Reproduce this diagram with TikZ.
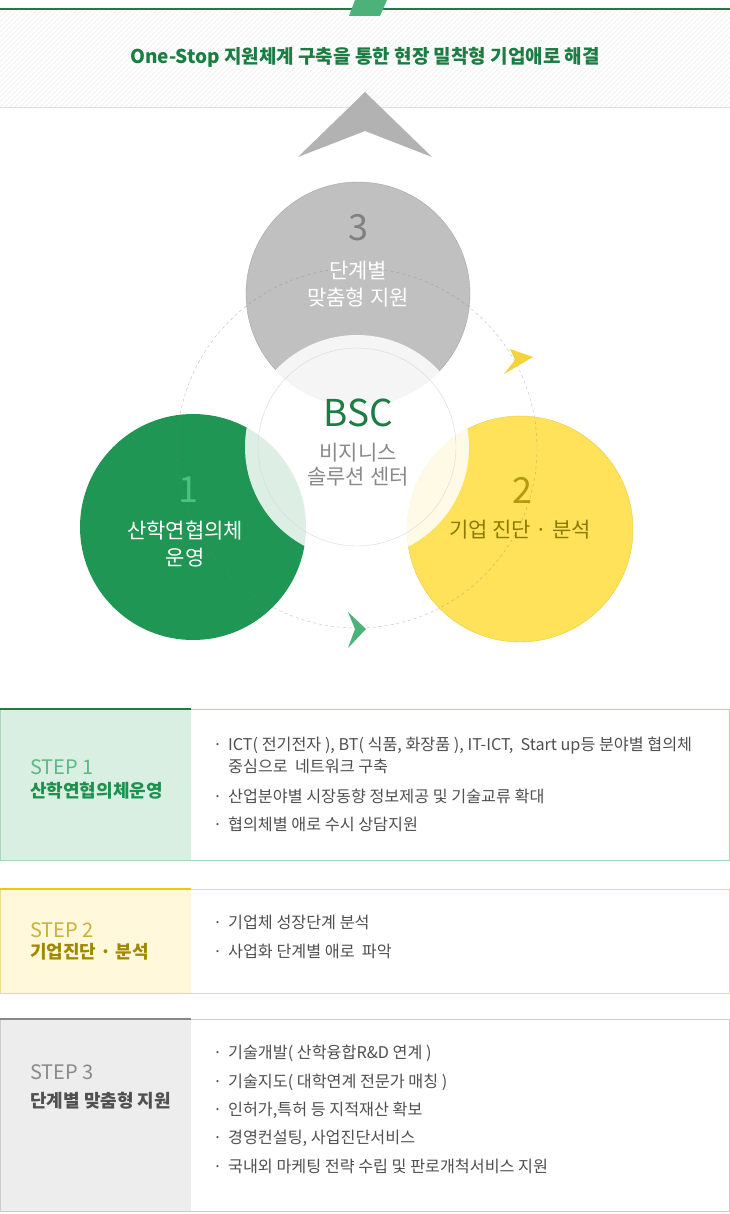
\documentclass[tikz,border=0pt]{standalone}
\usepackage{fontspec}
\setmainfont{Noto Sans CJK KR}
\usetikzlibrary{arrows.meta}

\definecolor{bscgreen}{HTML}{1B7D43}
\definecolor{circgreen}{HTML}{1F9653}
\definecolor{circgray}{HTML}{C0C0C0}
\definecolor{circyellow}{HTML}{FFE25A}
\definecolor{chevgreen}{HTML}{4DB27A}
\definecolor{chevyellow}{HTML}{F4D23A}
\definecolor{numgreen}{HTML}{4CC27F}
\definecolor{numyellow}{HTML}{B39A10}
\definecolor{olivetext}{HTML}{8C7A00}
\definecolor{midgray}{HTML}{8A8A8A}
\definecolor{bodygray}{HTML}{505050}
\definecolor{oneborder}{HTML}{A8D8BA}
\definecolor{onefill}{HTML}{D8EFE1}
\definecolor{onestep}{HTML}{5DB885}
\definecolor{onename}{HTML}{1E9150}
\definecolor{twoborder}{HTML}{EBDB8A}
\definecolor{twofill}{HTML}{FFF8DA}
\definecolor{twotop}{HTML}{F0C800}
\definecolor{twostep}{HTML}{C9B13A}
\definecolor{twoname}{HTML}{A08800}
\definecolor{threeborder}{HTML}{CCCCCC}
\definecolor{threefill}{HTML}{EDEDED}
\definecolor{threetop}{HTML}{888888}
\newcommand{\bul}{\makebox[15pt][l]{·}}

\begin{document}
\begin{tikzpicture}[x=1pt,y=-1pt,
  item/.style={anchor=base west,inner sep=0pt,text=bodygray,font=\fontsize{16.2}{19}\selectfont},
  steplabel/.style={anchor=base west,inner sep=0pt,font=\fontsize{20}{24}\selectfont},
  stepname/.style={anchor=base west,inner sep=0pt,font=\bfseries\fontsize{18}{21}\selectfont},
  circtext/.style={align=center,inner sep=0pt,font=\fontsize{21}{27}\selectfont},
  bignum/.style={inner sep=0pt,font=\fontsize{36}{40}\selectfont}]
  \useasboundingbox (0,0) rectangle (730,1214);
  \fill[white] (0,0) rectangle (730,1214);
  \begin{scope}
    \clip (0,9) rectangle (730,107);
    \foreach \k in {-100,-95,...,730}
      \draw[gray!14,line width=0.6pt] (\k,107) -- (\k+98,9);
  \end{scope}
  \draw[gray!25] (0,107) -- (730,107);
  \draw[bscgreen,line width=2pt] (0,9) -- (730,9);
  \fill[chevgreen] (355,0) -- (387,0) -- (380,16) -- (349,16) -- cycle;
  \node[anchor=base,inner sep=0pt,text=bscgreen,font=\bfseries\fontsize{19}{21}\selectfont] (title) at (365,64)
    {One-Stop 지원체계 구축을 통한 현장 밀착형 기업애로 해결};
  \fill[gray!60] (365,92) -- (432,157) -- (365,131) -- (298,157) -- cycle;

  \fill[circgray] (358,294) circle[radius=112pt];
  \draw[gray!70,line width=0.4pt] (358,294) circle[radius=112pt];
  \fill[circgreen] (193,527) circle[radius=113pt];
  \fill[circyellow] (520,529) circle[radius=113pt];
  \draw[circyellow!80!olivetext,line width=0.4pt] (520,529) circle[radius=113pt];
  \fill[white,opacity=0.85] (357,447) circle[radius=112pt];
  \draw[gray!30] (357,447) circle[radius=99pt];
  \draw[gray,opacity=0.5,dash pattern=on 3pt off 3pt] (357,448) circle[radius=180pt];
  \fill[chevyellow] (533,357) -- (510,349) -- (515,360) -- (504,374) -- cycle;
  \fill[chevgreen] (366,629) -- (348,612) -- (355,629) -- (348,648) -- cycle;

  \node[bignum,text=gray] (num3) at (358,228) {3};
  \node[circtext,text=white] (circ3) at (358,284) {단계별\\맞춤형 지원};
  \node[inner sep=0pt,text=bscgreen,font=\fontsize{37}{40}\selectfont] (bsc) at (358,413) {BSC};
  \node[circtext,text=midgray,font=\fontsize{21}{24}\selectfont] (bsctext) at (358,465) {비지니스\\솔루션 센터};
  \node[bignum,text=numgreen] (num1) at (188,490) {1};
  \node[circtext,text=white] (circ1) at (185,544) {산학연협의체\\운영};
  \node[bignum,text=numyellow] (num2) at (522,490) {2};
  \node[circtext,text=olivetext] (circ2) at (520,530) {기업 진단 · 분석};

  \fill[onefill] (0,709) rectangle (191,861);
  \draw[oneborder] (0.5,709) rectangle (729.5,860.5);
  \draw[bscgreen,line width=2pt] (0,709) -- (191,709);
  \node[steplabel,text=onestep] (step1) at (30,774) {STEP 1};
  \node[stepname,text=onename] (name1) at (30,797) {산학연협의체운영};
  \node[item] (s1a) at (213,750.5) {\bul ICT( 전기전자 ), BT( 식품, 화장품 ), IT-ICT,\ \ Start up등 분야별 협의체};
  \node[item] (s1b) at (228,772.5) {중심으로\ \ 네트워크 구축};
  \node[item] (s1c) at (213,802.5) {\bul 산업분야별 시장동향 정보제공 및 기술교류 확대};
  \node[item] (s1d) at (213,830.5) {\bul 협의체별 애로 수시 상담지원};

  \fill[twofill] (0,889) rectangle (191,993);
  \draw[twoborder] (0.5,889) rectangle (729.5,993);
  \draw[twotop,line width=2pt] (0,889) -- (191,889);
  \node[steplabel,text=twostep] (step2) at (30,937) {STEP 2};
  \node[stepname,text=twoname] (name2) at (30,958) {기업진단 · 분석};
  \node[item] (s2a) at (213,928.5) {\bul 기업체 성장단계 분석};
  \node[item] (s2b) at (213,957.5) {\bul 사업화 단계별 애로\ \ 파악};

  \fill[threefill] (0,1019) rectangle (191,1211);
  \draw[threeborder] (0.5,1019) rectangle (729.5,1211);
  \draw[threetop,line width=2pt] (0,1019) -- (191,1019);
  \node[steplabel,text=midgray] (step3) at (30,1079) {STEP 3};
  \node[stepname,text=bodygray] (name3) at (30,1107) {단계별 맞춤형 지원};
  \node[item] (s3a) at (213,1058.5) {\bul 기술개발( 산학융합R\&D 연계 )};
  \node[item] (s3b) at (213,1087.5) {\bul 기술지도( 대학연계 전문가 매칭 )};
  \node[item] (s3c) at (213,1115.5) {\bul 인허가,특허 등 지적재산 확보};
  \node[item] (s3d) at (213,1143.5) {\bul 경영컨설팅, 사업진단서비스};
  \node[item] (s3e) at (213,1172.5) {\bul 국내외 마케팅 전략 수립 및 판로개척서비스 지원};
\end{tikzpicture}
\end{document}
